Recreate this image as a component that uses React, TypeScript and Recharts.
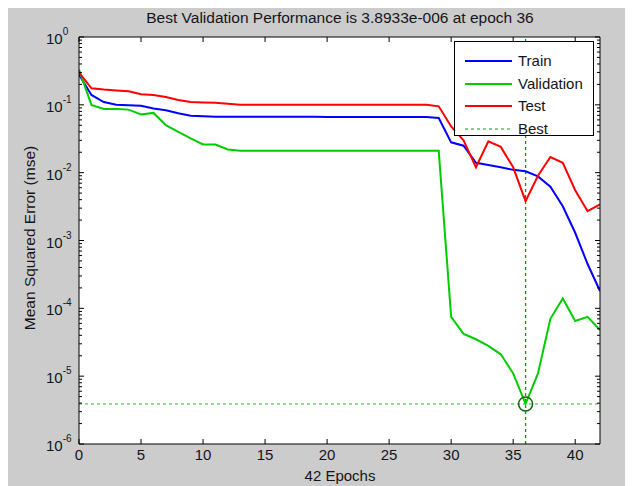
import React from 'react';
import {
  LineChart,
  Line,
  XAxis,
  YAxis,
  CartesianGrid,
  ReferenceLine,
  ReferenceDot,
  Legend,
} from 'recharts';

// ---------- data ----------
const epochs = [
  0, 1, 2, 3, 4, 5, 6, 7, 8, 9, 10, 11, 12, 13, 14, 15, 16, 17, 18, 19, 20,
  21, 22, 23, 24, 25, 26, 27, 28, 29, 30, 31, 32, 33, 34, 35, 36, 37, 38, 39,
  40, 41, 42,
];

const trainMse = [
  0.28, 0.14, 0.11, 0.1, 0.099, 0.097, 0.088, 0.083, 0.075, 0.069, 0.068,
  0.067, 0.067, 0.067, 0.067, 0.067, 0.067, 0.067, 0.067, 0.067,
  0.066, 0.066, 0.066, 0.066, 0.066, 0.066, 0.066, 0.066, 0.066,
  0.064, 0.028, 0.025, 0.014, 0.013, 0.012, 0.011, 0.0105, 0.0088, 0.0062,
  0.0032, 0.0013, 0.00045, 0.00018,
];

const validationMse = [
  0.33, 0.1, 0.087, 0.087, 0.085, 0.072, 0.076, 0.05, 0.04, 0.032, 0.026,
  0.026, 0.022, 0.021, 0.021, 0.021, 0.021, 0.021, 0.021, 0.021, 0.021,
  0.021, 0.021, 0.021, 0.021, 0.021, 0.021, 0.021, 0.021, 0.021,
  7.5e-5, 4.2e-5, 3.5e-5, 2.8e-5, 2.1e-5, 1.1e-5, 3.8933e-6, 1.1e-5, 7e-5,
  1.4e-4, 6.5e-5, 7.5e-5, 4.8e-5,
];

const testMse = [
  0.3, 0.175, 0.168, 0.163, 0.158, 0.143, 0.14, 0.13, 0.118, 0.11, 0.108,
  0.107, 0.104, 0.1, 0.1, 0.1, 0.1, 0.1, 0.1, 0.1, 0.1, 0.1, 0.1, 0.1, 0.1,
  0.1, 0.1, 0.1, 0.1, 0.095, 0.048, 0.03, 0.012, 0.029, 0.024, 0.012,
  0.0038, 0.009, 0.017, 0.014, 0.0055, 0.0027, 0.0034,
];

const bestEpoch = 36;
const bestPerf = 3.8933e-6;

const xTicks = [0, 5, 10, 15, 20, 25, 30, 35, 40];
const yMajorExponents = [-6, -5, -4, -3, -2, -1, 0];

const titleText = 'Best Validation Performance is 3.8933e-006 at epoch 36';
const xLabelText = '42 Epochs';
const yLabelText = 'Mean Squared Error  (mse)';

const seriesDefs = [
  { key: 'train', name: 'Train', color: '#0000ff', dashed: false },
  { key: 'validation', name: 'Validation', color: '#00cc00', dashed: false },
  { key: 'test', name: 'Test', color: '#ff0000', dashed: false },
];
const legendItems = [
  ...seriesDefs,
  { key: 'best', name: 'Best', color: '#119911', dashed: true },
];

const data = epochs.map((e, i) => ({
  epoch: e,
  train: trainMse[i],
  validation: validationMse[i],
  test: testMse[i],
}));

// log ticks: majors + minors (2..9 x 10^k)
const yTicks: number[] = [];
yMajorExponents.forEach((k) => {
  yTicks.push(Math.pow(10, k));
  if (k < 0) {
    for (let m = 2; m <= 9; m++) yTicks.push(m * Math.pow(10, k));
  }
});
yTicks.sort((a, b) => a - b);

// ---------- layout ----------
const W = 625;
const H = 478;
const PL = 71; // plot left
const PR = 592; // plot right
const PT = 29; // plot top
const PB = 436; // plot bottom
const FONT = '"Liberation Sans", Arial, sans-serif';
const TXT = '#141420';

const isMajor = (v: number) => {
  const e = Math.log10(v);
  return Math.abs(e - Math.round(e)) < 1e-6;
};

const LeftTick = (props: any) => {
  const { y, payload } = props;
  const v = payload.value;
  const major = isMajor(v);
  const len = major ? 5 : 3;
  const e = Math.round(Math.log10(v));
  return (
    <g>
      <line x1={PL} x2={PL + len} y1={y} y2={y} stroke="#000" strokeWidth={1} />
      {major && (
        <text x={38} y={y + 7} fontSize={15} fontFamily={FONT} fill={TXT}>
          10
          <tspan dy={-9} fontSize={10}>
            {e}
          </tspan>
        </text>
      )}
    </g>
  );
};

const RightTick = (props: any) => {
  const { y, payload } = props;
  const major = isMajor(payload.value);
  const len = major ? 5 : 3;
  return <line x1={PR} x2={PR - len} y1={y} y2={y} stroke="#000" strokeWidth={1} />;
};

const BottomTick = (props: any) => {
  const { x, payload } = props;
  return (
    <g>
      <line x1={x} x2={x} y1={PB} y2={PB - 5} stroke="#000" strokeWidth={1} />
      <text
        x={x}
        y={PB + 16}
        textAnchor="middle"
        fontSize={15}
        fontFamily={FONT}
        fill={TXT}
      >
        {payload.value}
      </text>
    </g>
  );
};

const TopTick = (props: any) => {
  const { x } = props;
  return <line x1={x} x2={x} y1={PT} y2={PT + 5} stroke="#000" strokeWidth={1} />;
};

const LegendBox = () => (
  <div
    style={{
      width: 140,
      height: 95,
      background: '#fff',
      border: '1px solid #000',
      fontFamily: FONT,
      fontSize: 15,
      color: TXT,
      paddingTop: 8,
      boxSizing: 'border-box',
    }}
  >
    {legendItems.map((it) => (
      <div
        key={it.key}
        style={{ height: 22.5, display: 'flex', alignItems: 'center' }}
      >
        <svg width={63} height={10} style={{ display: 'block' }}>
          <line
            x1={10}
            x2={57}
            y1={5}
            y2={5}
            stroke={it.color}
            strokeWidth={it.dashed ? 1 : 2}
            strokeDasharray={it.dashed ? '3 3' : undefined}
          />
        </svg>
        <span style={{ lineHeight: '16px' }}>{it.name}</span>
      </div>
    ))}
  </div>
);

export default function App() {
  return (
    <div
      style={{
        position: 'relative',
        width: W,
        height: H,
        background: '#cccccc',
        fontFamily: FONT,
      }}
    >
      <LineChart
        width={W}
        height={H}
        data={data}
        margin={{ top: 0, right: 0, bottom: 0, left: 0 }}
      >
        <CartesianGrid horizontal={false} vertical={false} fill="#ffffff" fillOpacity={1} />
        <XAxis
          dataKey="epoch"
          type="number"
          domain={[0, 42]}
          ticks={xTicks}
          interval={0}
          height={H - PB}
          axisLine={{ stroke: '#000' }}
          tickLine={false}
          tick={<BottomTick />}
          allowDataOverflow
        />
        <XAxis
          xAxisId="top"
          orientation="top"
          type="number"
          domain={[0, 42]}
          ticks={xTicks}
          interval={0}
          height={PT}
          axisLine={{ stroke: '#000' }}
          tickLine={false}
          tick={<TopTick />}
          allowDataOverflow
        />
        <YAxis
          type="number"
          scale="log"
          domain={[1e-6, 1]}
          ticks={yTicks}
          interval={0}
          width={PL}
          axisLine={{ stroke: '#000' }}
          tickLine={false}
          tick={<LeftTick />}
          allowDataOverflow
        />
        <YAxis
          yAxisId="right"
          orientation="right"
          type="number"
          scale="log"
          domain={[1e-6, 1]}
          ticks={yTicks}
          interval={0}
          width={W - PR}
          axisLine={{ stroke: '#000' }}
          tickLine={false}
          tick={<RightTick />}
          allowDataOverflow
        />
        <ReferenceLine
          y={bestPerf}
          stroke="#22bb22"
          strokeWidth={1}
          strokeDasharray="3 3"
        />
        <ReferenceLine
          x={bestEpoch}
          stroke="#009900"
          strokeWidth={1.3}
          strokeDasharray="3 3"
        />
        {seriesDefs.map((s) => (
          <Line
            key={s.key}
            type="linear"
            dataKey={s.key}
            name={s.name}
            stroke={s.color}
            strokeWidth={2}
            dot={false}
            activeDot={false}
            isAnimationActive={false}
          />
        ))}
        <ReferenceDot
          x={bestEpoch}
          y={bestPerf}
          r={7}
          fill="none"
          stroke="#116611"
          strokeWidth={1.5}
        />
        <Legend
          layout="horizontal"
          verticalAlign="middle"
          align="center"
          content={() => <LegendBox />}
          wrapperStyle={{ left: 446, top: 33, width: 142, height: 97 }}
        />
      </LineChart>
      <div
        style={{
          position: 'absolute',
          left: 332,
          top: 10,
          transform: 'translate(-50%, -50%)',
          whiteSpace: 'nowrap',
          fontSize: 15.5,
          color: TXT,
        }}
      >
        {titleText}
      </div>
      <div
        style={{
          position: 'absolute',
          left: 22,
          top: 230,
          transform: 'translate(-50%, -50%) rotate(-90deg)',
          whiteSpace: 'nowrap',
          fontSize: 15.5,
          color: TXT,
        }}
      >
        {yLabelText}
      </div>
      <div
        style={{
          position: 'absolute',
          left: 332,
          top: 468,
          transform: 'translate(-50%, -50%)',
          whiteSpace: 'nowrap',
          fontSize: 15,
          lineHeight: '16px',
          color: TXT,
        }}
      >
        {xLabelText}
      </div>
    </div>
  );
}
